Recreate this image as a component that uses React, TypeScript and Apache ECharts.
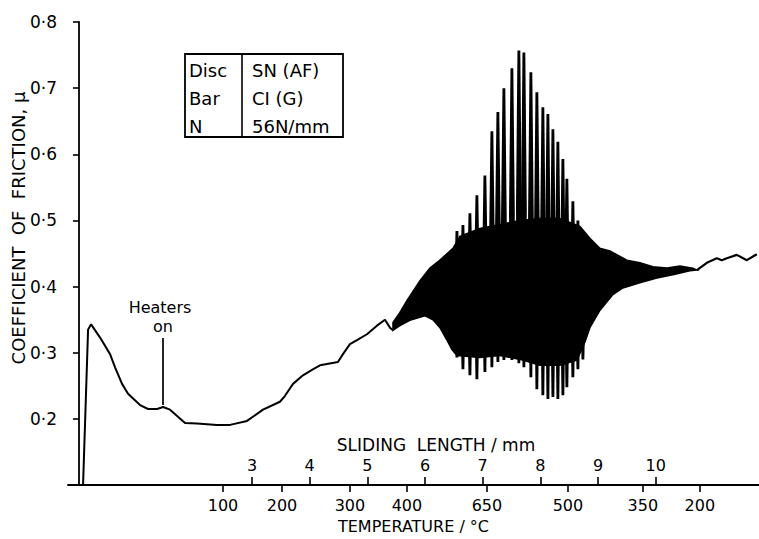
import React, { useEffect, useRef } from "react";
import * as echarts from "echarts";

const FONT = "DejaVu Sans";

// Sliding length ticks (top row of x labels)
const slidingTicks = [3, 4, 5, 6, 7, 8, 9, 10];
// Temperature labels (bottom row) and their positions on the sliding-length scale
const tempLabels = [100, 200, 300, 400, 650, 500, 350, 200];
const tempTickPos = [2.497, 3.52, 4.698, 5.686, 7.073, 8.477, 9.776, 10.764];

// Coefficient of friction curve before the stick-slip band
const leftCurve: number[][] = [
  [0.071, 0.1], [0.158, 0.335], [0.21, 0.343], [0.366, 0.323], [0.539, 0.298],
  [0.626, 0.278], [0.747, 0.253], [0.851, 0.238], [1.059, 0.221], [1.198, 0.215],
  [1.354, 0.215], [1.458, 0.218], [1.579, 0.214], [1.839, 0.194], [2.047, 0.193],
  [2.393, 0.191], [2.619, 0.191], [2.913, 0.197], [3.191, 0.214], [3.485, 0.226],
  [3.572, 0.235], [3.711, 0.253], [3.884, 0.266], [4.04, 0.274], [4.179, 0.281],
  [4.49, 0.286], [4.577, 0.298], [4.698, 0.313], [4.82, 0.319], [4.993, 0.328],
  [5.166, 0.341], [5.305, 0.35], [5.392, 0.338], [5.444, 0.334],
];

// Curve after the band
const rightCurve: number[][] = [
  [10.713, 0.425], [10.886, 0.436], [11.059, 0.443], [11.145, 0.44], [11.232, 0.443],
  [11.405, 0.448], [11.579, 0.44], [11.752, 0.449],
];

// Envelope of the dense oscillation band
const bandUpper: number[][] = [
  [5.444, 0.346], [5.565, 0.361], [5.686, 0.379], [5.912, 0.409], [6.085, 0.428],
  [6.258, 0.44], [6.484, 0.458], [6.605, 0.476], [6.951, 0.488], [7.298, 0.494],
  [7.645, 0.5], [7.991, 0.503], [8.338, 0.503], [8.685, 0.491], [8.858, 0.473],
  [9.031, 0.458], [9.205, 0.454], [9.499, 0.44], [9.725, 0.436], [9.95, 0.43],
  [10.193, 0.428], [10.418, 0.431], [10.643, 0.428], [10.713, 0.425],
];
const bandLower: number[][] = [
  [5.444, 0.334], [5.565, 0.341], [5.738, 0.349], [5.998, 0.356], [6.137, 0.35],
  [6.258, 0.338], [6.38, 0.319], [6.466, 0.305], [6.553, 0.296], [6.951, 0.293],
  [7.298, 0.296], [7.645, 0.29], [7.991, 0.281], [8.338, 0.281], [8.633, 0.289],
  [8.771, 0.316], [8.858, 0.338], [9.031, 0.364], [9.257, 0.388], [9.43, 0.398],
  [9.725, 0.406], [10.019, 0.413], [10.297, 0.418], [10.591, 0.424], [10.713, 0.425],
];

// Individual stick-slip spikes: position, peak and trough
const spikeS = [6.553, 6.657, 6.778, 6.899, 7.038, 7.159, 7.263, 7.367, 7.506, 7.627, 7.714,
  7.835, 7.939, 8.043, 8.13, 8.217, 8.303, 8.39, 8.459, 8.563, 8.65, 8.737];
const spikeTop = [0.484, 0.493, 0.511, 0.538, 0.568, 0.635, 0.664, 0.7, 0.73, 0.757, 0.754,
  0.724, 0.694, 0.671, 0.661, 0.638, 0.619, 0.593, 0.563, 0.529, 0.5, 0.478];
const spikeBottom = [0.293, 0.275, 0.266, 0.26, 0.271, 0.278, 0.286, 0.289, 0.289, 0.284, 0.278,
  0.263, 0.245, 0.236, 0.23, 0.233, 0.23, 0.236, 0.248, 0.263, 0.275, 0.29];

const tableRows = [
  ["Disc", "SN (AF)"],
  ["Bar", "CI (G)"],
  ["N", "56N/mm"],
];

export default function App() {
  const ref = useRef<HTMLDivElement>(null);
  useEffect(() => {
    if (!ref.current) return;
    document.body.style.margin = "0";
    const chart = echarts.init(ref.current, undefined, { renderer: "svg" });
    const black = "#000";
    const txt = { color: black, fontFamily: FONT, fontSize: 16 };

    const tableGraphics: any[] = [
      { type: "rect", shape: { x: 185, y: 54, width: 158, height: 83 }, style: { fill: "#fff", stroke: black, lineWidth: 1.8 }, z: 100 },
      { type: "line", shape: { x1: 242, y1: 54, x2: 242, y2: 137 }, style: { stroke: black, lineWidth: 1.6 }, z: 101 },
    ];
    tableRows.forEach((r, i) => {
      const y = 70 + i * 28;
      tableGraphics.push({ type: "text", x: 189, y, z: 102, style: { text: r[0], fill: black, font: `18px "${FONT}"`, textVerticalAlign: "middle" } });
      tableGraphics.push({ type: "text", x: 252, y, z: 102, style: { text: r[1], fill: black, font: `18px "${FONT}"`, textVerticalAlign: "middle" } });
    });

    const option: any = {
      animation: false,
      grid: { left: 68, right: 0, top: 22, bottom: 50, containLabel: false },
      xAxis: [
        {
          type: "value", min: -0.19, max: 11.79, position: "bottom",
          axisLine: { show: true, lineStyle: { color: black, width: 1.8 } },
          splitLine: { show: false },
          axisTick: { show: true, inside: true, length: 8, customValues: slidingTicks, lineStyle: { color: black, width: 1.6 } },
          axisLabel: { inside: true, margin: 12, customValues: slidingTicks, ...txt, formatter: (v: number) => String(v) },
        },
        {
          type: "value", min: -0.19, max: 11.79, position: "bottom", offset: 0,
          axisLine: { show: false },
          splitLine: { show: false },
          axisTick: { show: true, inside: false, length: 7, customValues: tempTickPos, lineStyle: { color: black, width: 1.6 } },
          axisLabel: {
            margin: 12, customValues: tempTickPos, ...txt,
            formatter: (v: number) => {
              const i = tempTickPos.findIndex((p) => Math.abs(p - v) < 1e-6);
              return i >= 0 ? String(tempLabels[i]) : "";
            },
          },
          name: "TEMPERATURE / °C", nameLocation: "middle", nameGap: 31,
          nameTextStyle: { color: black, fontFamily: FONT, fontSize: 16 },
        },
      ],
      yAxis: {
        type: "value", min: 0.1, max: 0.8, interval: 0.1,
        axisLine: { show: true, lineStyle: { color: black, width: 1.8 } },
        splitLine: { show: false },
        axisTick: { show: true, inside: false, length: 6, lineStyle: { color: black, width: 1.6 } },
        axisLabel: {
          margin: 11, ...txt, fontSize: 17,
          formatter: (v: number) => (v < 0.15 ? "" : v.toFixed(1).replace(".", "·")),
        },
      },
      graphic: [
        ...tableGraphics,
        { type: "text", x: 160, y: 307, style: { text: "Heaters", fill: black, font: `16px "${FONT}"`, textAlign: "center", textVerticalAlign: "middle" } },
        { type: "text", x: 163, y: 326, style: { text: "on", fill: black, font: `16px "${FONT}"`, textAlign: "center", textVerticalAlign: "middle" } },
        { type: "line", shape: { x1: 163, y1: 338, x2: 163, y2: 405 }, style: { stroke: black, lineWidth: 1.7 } },
        { type: "text", x: 436, y: 445, style: { text: "SLIDING  LENGTH / mm", fill: black, font: `17px "${FONT}"`, textAlign: "center", textVerticalAlign: "middle" } },
        { type: "text", x: 18, y: 228, rotation: Math.PI / 2, style: { text: "COEFFICIENT  OF  FRICTION, μ", fill: black, font: `18px "${FONT}"`, textAlign: "center", textVerticalAlign: "middle" } },
      ],
      series: [
        {
          type: "line", data: leftCurve, showSymbol: false, symbol: "none",
          lineStyle: { color: black, width: 2 }, xAxisIndex: 0, yAxisIndex: 0,
        },
        {
          type: "line", data: rightCurve, showSymbol: false, symbol: "none",
          lineStyle: { color: black, width: 2.2 }, xAxisIndex: 0, yAxisIndex: 0,
        },
        {
          type: "custom", xAxisIndex: 0, yAxisIndex: 0,
          data: [bandUpper[0]],
          renderItem: (_p: any, api: any) => {
            const pts = bandUpper.map((d) => api.coord(d)).concat(bandLower.slice().reverse().map((d) => api.coord(d)));
            return { type: "polygon", shape: { points: pts }, style: { fill: black, stroke: black, lineWidth: 1.5 } };
          },
        },
        {
          type: "custom", xAxisIndex: 0, yAxisIndex: 0,
          data: spikeS.map((s, i) => [s, spikeTop[i], spikeBottom[i]]),
          encode: { x: 0, y: [1, 2] },
          renderItem: (_p: any, api: any) => {
            const x = api.value(0);
            const a = api.coord([x, api.value(1)]);
            const b = api.coord([x, api.value(2)]);
            const my = (a[1] + b[1]) / 2;
            const cx = a[0];
            return {
              type: "polygon",
              shape: { points: [[cx - 1.4, a[1]], [cx + 1.4, a[1]], [cx + 2.9, my], [cx + 1.4, b[1]], [cx - 1.4, b[1]], [cx - 2.9, my]] },
              style: { fill: black },
            };
          },
        },
      ],
    };
    chart.setOption(option);
    return () => chart.dispose();
  }, []);
  return <div ref={ref} style={{ position: "absolute", left: 0, top: 0, width: 759, height: 539 }} />;
}
